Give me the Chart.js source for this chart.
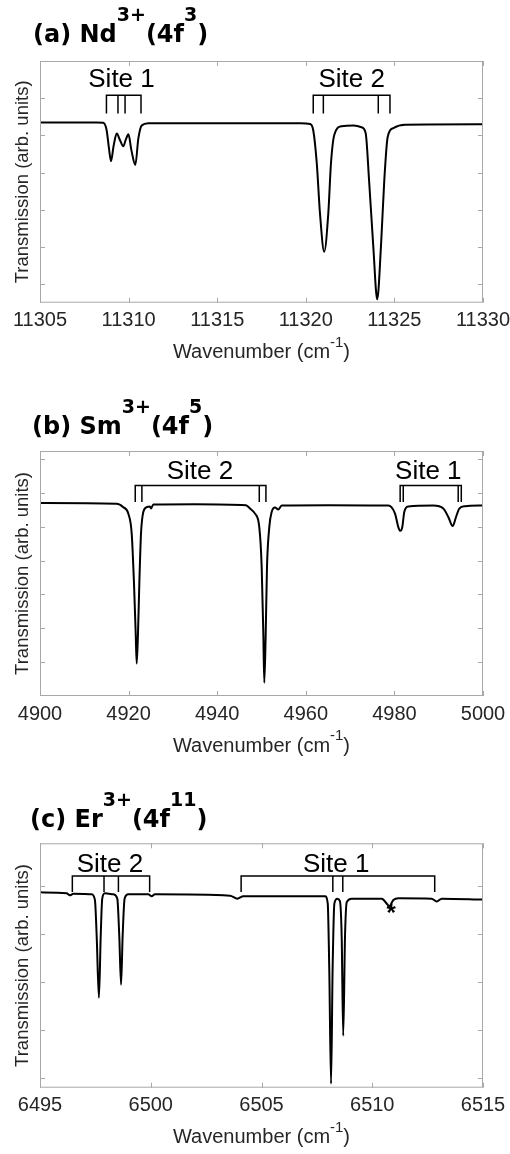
<!DOCTYPE html>
<html>
<head>
<meta charset="utf-8">
<script src="https://cdn.jsdelivr.net/npm/chart.js@4"></script>
<style>
  body { margin: 0; background: #fff; }
  #wrap { position: relative; width: 510px; height: 1154px; }
  canvas { position: absolute; left: 0; }
</style>
</head>
<body>
<div id="wrap">
  <canvas id="ndCanvas" width="510" height="376" style="top:0px"></canvas>
  <canvas id="smCanvas" width="510" height="384" style="top:376px"></canvas>
  <canvas id="erCanvas" width="510" height="394" style="top:760px"></canvas>
</div>
<script>
// (a) Nd3+ spectrum
const ndWave = [11305.00, 11308.20, 11308.57, 11308.76, 11308.89, 11309.01, 11309.15, 11309.33, 11309.51, 11309.70,
  11309.85, 11309.99, 11310.16, 11310.38, 11310.55, 11310.74, 11311.11, 11315.00, 11319.70, 11320.24,
  11320.42, 11320.62, 11320.80, 11321.04, 11321.27, 11321.42, 11321.61, 11322.03, 11322.70, 11323.15,
  11323.38, 11323.57, 11323.81, 11324.03, 11324.24, 11324.43, 11324.62, 11324.94, 11325.60, 11330.00];
const ndTrans = [4.35, 4.35, 4.34, 4.14, 3.66, 3.31, 3.71, 4.05, 3.88, 3.71,
  3.90, 4.03, 3.60, 3.21, 3.92, 4.27, 4.33, 4.33, 4.33, 4.31,
  4.14, 3.25, 1.91, 0.88, 1.91, 3.25, 4.02, 4.25, 4.27, 4.22,
  4.06, 2.80, 1.01, -0.40, 1.01, 2.80, 3.96, 4.20, 4.29, 4.30];
const ndXTicks = [11305, 11310, 11315, 11320, 11325, 11330];
const ndYTicks = [0, 1, 2, 3, 4, 5, 6];
const ndSite1 = [11308.75, 11309.4, 11309.8, 11310.7];
const ndSite2 = [11320.42, 11320.99, 11324.09, 11324.75];

// (b) Sm3+
const smWave = [4900.00, 4917.30, 4918.80, 4919.93, 4920.70, 4921.22, 4921.60, 4921.83, 4922.12, 4922.42,
  4922.80, 4923.32, 4924.09, 4924.83, 4925.06, 4925.58, 4935.00, 4946.50, 4947.40, 4948.53,
  4949.50, 4950.04, 4950.41, 4950.63, 4950.95, 4951.24, 4951.76, 4952.30, 4953.05, 4953.79,
  4954.56, 4965.00, 4978.62, 4980.14, 4980.88, 4981.33, 4981.78, 4982.23, 4983.14, 4988.78,
  4991.04, 4992.17, 4993.16, 4993.91, 4994.65, 4995.94, 5000.00];
const smTrans = [4.70, 4.68, 4.58, 4.39, 3.80, 2.32, 0.85, -0.04, 0.85, 2.32,
  3.80, 4.44, 4.58, 4.60, 4.54, 4.66, 4.67, 4.64, 4.54, 4.39,
  3.99, 2.81, 0.85, -0.61, 0.85, 2.81, 3.99, 4.44, 4.57, 4.51,
  4.63, 4.64, 4.63, 4.39, 3.99, 3.88, 3.99, 4.44, 4.60, 4.63,
  4.54, 4.29, 4.02, 4.29, 4.54, 4.61, 4.63];
const smXTicks = [4900, 4920, 4940, 4960, 4980, 5000];
const smYTicks = [0, 1, 2, 3, 4, 5, 6];
const smSite2 = [4921.5, 4923.0, 4949.5, 4951.0];
const smSite1 = [4981.3, 4982.0, 4994.4, 4995.1];

// (c) Er3+
const erWave = [6495.00, 6496.20, 6496.35, 6496.50, 6497.33, 6497.48, 6497.56, 6497.66, 6497.74, 6497.81,
  6497.93, 6498.31, 6498.49, 6498.58, 6498.66, 6498.73, 6498.82, 6498.99, 6499.89, 6500.04,
  6500.19, 6503.58, 6503.91, 6504.18, 6507.87, 6507.99, 6508.06, 6508.14, 6508.21, 6508.29,
  6508.42, 6508.54, 6508.62, 6508.69, 6508.77, 6508.85, 6509.07, 6510.43, 6510.65, 6510.77,
  6510.95, 6511.18, 6512.68, 6512.91, 6513.14, 6515.00];
const erTrans = [3.86, 3.84, 3.80, 3.83, 3.82, 3.70, 2.94, 1.67, 2.94, 3.73,
  3.84, 3.82, 3.73, 2.94, 1.94, 2.94, 3.73, 3.82, 3.82, 3.78,
  3.82, 3.79, 3.73, 3.78, 3.78, 3.63, 2.25, -0.12, 2.25, 3.63,
  3.73, 3.68, 2.94, 0.88, 2.94, 3.66, 3.73, 3.73, 3.63, 3.57,
  3.70, 3.74, 3.73, 3.67, 3.73, 3.71];
const erXTicks = [6495, 6500, 6505, 6510, 6515];
const erYTicks = [0, 1, 2, 3, 4];
const erSite2 = [6496.46, 6497.89, 6498.54, 6499.95];
const erSite1 = [6504.08, 6508.22, 6508.67, 6512.82];

const SANS = '"Liberation Sans", Arial, sans-serif';

// bracket: outer legs + top bar, inner legs as separate pieces
function bracket(xs, top, end) {
  const pts = [
    {x: xs[0], y: end}, {x: xs[0], y: top}, {x: xs[3], y: top}, {x: xs[3], y: end}, {x: xs[3], y: null},
    {x: xs[1], y: top}, {x: xs[1], y: end}, {x: xs[1], y: null},
    {x: xs[2], y: top}, {x: xs[2], y: end}
  ];
  return {
    data: pts, borderColor: '#000', borderWidth: 1.5, pointRadius: 0,
    tension: 0, spanGaps: false, parsing: false
  };
}

// draw "text" pieces: [str, isSup]
function drawRich(ctx, parts, x, y, font, supFont, raise, align) {
  let total = 0;
  parts.forEach(p => { ctx.font = p[1] ? supFont : font; total += ctx.measureText(p[0]).width; });
  let cx = align === 'center' ? x - total / 2 : x;
  ctx.textAlign = 'left';
  ctx.textBaseline = 'alphabetic';
  parts.forEach(p => {
    ctx.font = p[1] ? supFont : font;
    ctx.fillText(p[0], cx, p[1] ? y - raise : y);
    cx += ctx.measureText(p[0]).width;
  });
}

const decorPlugin = {
  id: 'decor',
  afterDraw(chart) {
    const o = chart.options.plugins.decor;
    const {ctx, chartArea: a, scales: {x, y}} = chart;
    ctx.save();
    // box and inward ticks
    ctx.strokeStyle = '#a8a8a8';
    ctx.lineWidth = 1;
    ctx.strokeRect(a.left + 0.5, a.top + 0.5, a.right - a.left - 1, a.bottom - a.top - 1);
    ctx.beginPath();
    x.ticks.forEach(t => {
      const px = Math.round(x.getPixelForValue(t.value)) + 0.5;
      ctx.moveTo(px, a.bottom); ctx.lineTo(px, a.bottom - 5);
      ctx.moveTo(px, a.top); ctx.lineTo(px, a.top + 5);
    });
    y.ticks.forEach(t => {
      const py = Math.round(y.getPixelForValue(t.value)) + 0.5;
      ctx.moveTo(a.left, py); ctx.lineTo(a.left + 5, py);
      ctx.moveTo(a.right, py); ctx.lineTo(a.right - 5, py);
    });
    ctx.stroke();

    // title
    ctx.fillStyle = '#000';
    drawRich(ctx, o.title, o.titleX, o.titleY, 'bold 24px "DejaVu Sans", sans-serif',
      'bold 19px "DejaVu Sans", sans-serif', 21, 'left');

    // y label
    ctx.fillStyle = '#262626';
    ctx.save();
    ctx.translate(23, (a.top + a.bottom) / 2);
    ctx.rotate(-Math.PI / 2);
    ctx.font = '18.5px ' + SANS;
    ctx.textAlign = 'center';
    ctx.textBaseline = 'middle';
    ctx.fillText('Transmission (arb. units)', 0, 0);
    ctx.restore();

    // x label
    drawRich(ctx, [['Wavenumber (cm', false], ['-1', true], [')', false]],
      (a.left + a.right) / 2, a.bottom + 55.5, '20px ' + SANS, '15px ' + SANS, 11.5, 'center');

    // site labels
    ctx.fillStyle = '#000';
    ctx.font = '26px ' + SANS;
    ctx.textAlign = 'center';
    ctx.textBaseline = 'alphabetic';
    o.sites.forEach(s => {
      ctx.fillText(s.text, x.getPixelForValue(s.x), y.getPixelForValue(s.y));
    });
    if (o.star) {
      ctx.font = 'bold 24px ' + SANS;
      ctx.fillText('*', x.getPixelForValue(o.star.x), y.getPixelForValue(o.star.y) + 13);
    }
    ctx.restore();
  }
};

function makePanel(id, cfg) {
  const canvas = document.getElementById(id);
  const H = canvas.height;
  const spectrum = cfg.wave.map((w, i) => ({x: w, y: cfg.trans[i]}));
  return new Chart(canvas.getContext('2d'), {
    type: 'line',
    data: {
      datasets: [
        {
          data: spectrum, borderColor: '#000', borderWidth: 2, pointRadius: 0,
          cubicInterpolationMode: 'monotone', parsing: false
        },
        bracket(cfg.siteA, cfg.bTop, cfg.bEnd),
        bracket(cfg.siteB, cfg.bTop, cfg.bEnd)
      ]
    },
    options: {
      responsive: false,
      animation: false,
      devicePixelRatio: 1,
      layout: {padding: {top: cfg.top, left: 0, right: 27, bottom: 0}},
      plugins: {
        legend: {display: false},
        tooltip: {enabled: false},
        decor: {title: cfg.title, titleX: cfg.titleX, titleY: cfg.titleY, sites: cfg.sites, star: cfg.star}
      },
      scales: {
        x: {
          type: 'linear', min: cfg.xTicks[0], max: cfg.xTicks[cfg.xTicks.length - 1],
          afterBuildTicks: s => { s.ticks = cfg.xTicks.map(v => ({value: v})); },
          ticks: {
            color: '#262626', font: {family: SANS, size: 20}, padding: 6,
            maxRotation: 0, autoSkip: false, callback: v => String(v)
          },
          grid: {display: false, drawTicks: false},
          border: {display: false},
          afterFit: s => { s.height = H - cfg.bottom; s.paddingLeft = 0; s.paddingRight = 0; }
        },
        y: {
          type: 'linear', min: cfg.yMin, max: cfg.yMax,
          afterBuildTicks: s => { s.ticks = cfg.yTicks.map(v => ({value: v})); },
          ticks: {display: false},
          grid: {display: false, drawTicks: false},
          border: {display: false},
          afterFit: s => { s.width = 40; }
        }
      }
    },
    plugins: [decorPlugin]
  });
}

makePanel('ndCanvas', {
  wave: ndWave, trans: ndTrans, xTicks: ndXTicks, yTicks: ndYTicks,
  yMin: -0.49, yMax: 6, top: 61, bottom: 302.7,
  siteA: ndSite1, siteB: ndSite2, bTop: 5.08, bEnd: 4.59,
  title: [['(a) Nd', false], ['3+', true], ['(4f', false], ['3', true], [')', false]],
  titleX: 33, titleY: 42.3,
  sites: [{text: 'Site 1', x: 11309.6, y: 5.29}, {text: 'Site 2', x: 11322.59, y: 5.29}]
});

makePanel('smCanvas', {
  wave: smWave, trans: smTrans, xTicks: smXTicks, yTicks: smYTicks,
  yMin: -1, yMax: 6.24, top: 75, bottom: 320,
  siteA: smSite2, siteB: smSite1, bTop: 5.22, bEnd: 4.73,
  title: [['(b) Sm', false], ['3+', true], ['(4f', false], ['5', true], [')', false]],
  titleX: 32, titleY: 58,
  sites: [{text: 'Site 2', x: 4936.1, y: 5.42}, {text: 'Site 1', x: 4987.65, y: 5.42}]
});

makePanel('erCanvas', {
  wave: erWave, trans: erTrans, xTicks: erXTicks, yTicks: erYTicks,
  yMin: -0.2, yMax: 4.88, top: 83.3, bottom: 327.7,
  siteA: erSite2, siteB: erSite1, bTop: 4.20, bEnd: 3.87,
  title: [['(c) Er', false], ['3+', true], ['(4f', false], ['11', true], [')', false]],
  titleX: 30, titleY: 66.5,
  sites: [{text: 'Site 2', x: 6498.16, y: 4.29}, {text: 'Site 1', x: 6508.37, y: 4.29}],
  star: {x: 6510.85, y: 3.53}
});
</script>
</body>
</html>
